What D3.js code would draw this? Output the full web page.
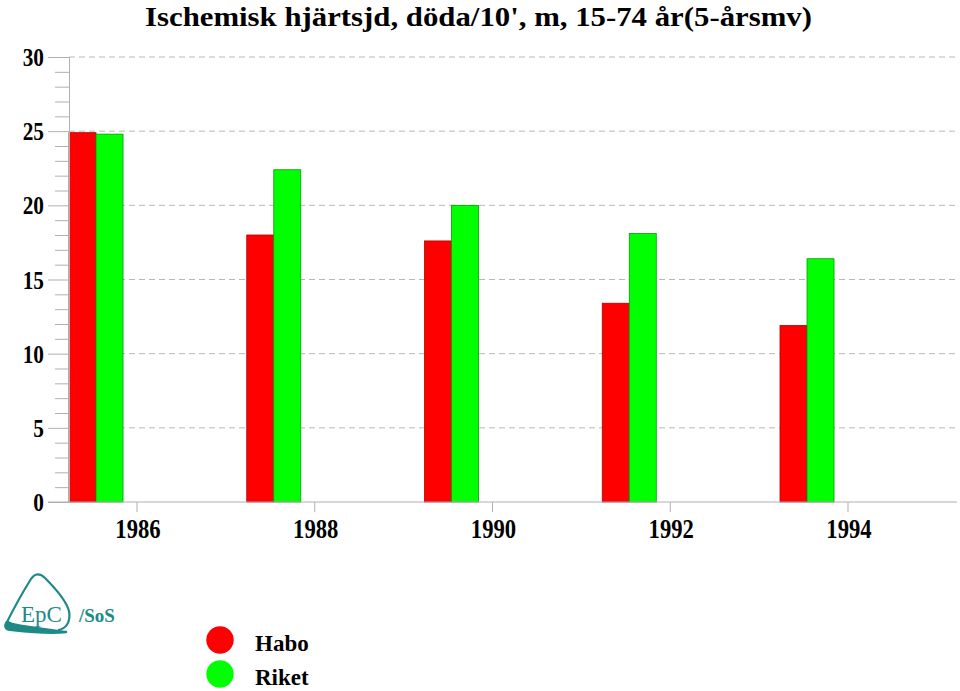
<!DOCTYPE html>
<html><head><meta charset="utf-8">
<script src="https://cdn.jsdelivr.net/npm/d3@7"></script>
<style>body{margin:0;background:#fff}svg{display:block}</style>
</head><body>
<script>
const title = "Ischemisk hjärtsjd, döda/10', m, 15-74 år(5-årsmv)";
const years = ["1986","1988","1990","1992","1994"];
const habo = [24.9, 18.0, 17.6, 13.4, 11.9];
const riket = [24.8, 22.4, 20.0, 18.1, 16.4];
const seriesNames = ["Habo","Riket"];
const seriesColors = ["#ff0000","#00ff00"];
const seriesStroke = ["#b00000","#00a000"];
const yTicks = [0,5,10,15,20,25,30];

const W = 960, H = 691;
const svg = d3.select("body").append("svg").attr("width", W).attr("height", H);
const serif = "'Liberation Serif','Times New Roman',serif";

const x = d3.scaleBand().domain(years).range([69, 957.75]).paddingInner(0).paddingOuter(0);
const y = d3.scaleLinear().domain([0, 30]).range([502, 57]);
const bw = x.bandwidth();
const barW = bw * 0.152;
const tickOff = bw * 0.3826;

// gridlines
svg.append("g").selectAll("line").data(yTicks.filter(d => d > 0)).join("line")
  .attr("x1", 69).attr("x2", 957).attr("y1", d => y(d)).attr("y2", d => y(d))
  .attr("stroke", "#b8b8b8").attr("stroke-width", 1).attr("stroke-dasharray", "6,4");

// bars
const data = years.map((yr, i) => ({yr, vals: [habo[i], riket[i]]}));
const g = svg.append("g");
data.forEach(d => {
  d.vals.forEach((v, k) => {
    g.append("rect")
      .attr("x", x(d.yr) + k * barW)
      .attr("y", y(v))
      .attr("width", barW)
      .attr("height", y(0) - y(v))
      .attr("fill", seriesColors[k])
      .attr("stroke", seriesStroke[k]).attr("stroke-width", 0.8);
  });
});

// y axis
const yAxis = d3.axisLeft(y).tickValues(d3.range(0, 31, 1)).tickSize(14).tickFormat("");
const ya = svg.append("g").attr("transform", "translate(69,0)").call(yAxis);
ya.select(".domain").attr("stroke", "#b0b0b0");
ya.selectAll(".tick line").attr("stroke", "#b0b0b0").attr("x2", d => d % 5 === 0 ? -21 : -14);
svg.append("g").selectAll("g").data(yTicks).join("g")
  .attr("transform", d => `translate(44,${y(d)}) scale(0.82,1)`)
  .append("text").attr("dy", "0.35em")
  .attr("text-anchor", "end").attr("font-family", serif).attr("font-weight", "bold")
  .attr("font-size", 26).text(d => d);

// x axis
svg.append("line").attr("x1", 48).attr("x2", 957).attr("y1", 502).attr("y2", 502).attr("stroke", "#b0b0b0");
const xt = svg.append("g").selectAll("g").data(years).join("g")
  .attr("transform", d => `translate(${x(d) + tickOff},502)`);
xt.append("line").attr("y2", 10).attr("stroke", "#b0b0b0");
xt.append("g").attr("transform", "translate(1,36) scale(0.84,1)")
  .append("text").attr("text-anchor", "middle").attr("font-family", serif).attr("font-weight", "bold")
  .attr("font-size", 27).text(d => d);

// title
svg.append("text").attr("x", 145).attr("y", 26)
  .attr("font-family", serif).attr("font-weight", "bold").attr("font-size", 28)
  .attr("textLength", 667).attr("lengthAdjust", "spacingAndGlyphs").text(title);

// legend
const lg = svg.append("g").selectAll("g").data(seriesNames).join("g")
  .attr("transform", (d, i) => `translate(220,${640 + i * 34})`);
lg.append("circle").attr("r", 13.7).attr("fill", (d, i) => seriesColors[i]);
lg.append("text").attr("x", 35).attr("y", 11).attr("font-family", serif).attr("font-weight", "bold")
  .attr("font-size", 23).text(d => d);

// logo
const teal = "#1e8a87";
const logo = svg.append("g");
logo.append("path")
  .attr("d", "M6,624 C14,608 24,590 31,579 C35,573 40,573 45,578 C55,588 66,600 69,611 C71,622 66,629 58,630")
  .attr("fill", "none").attr("stroke", teal).attr("stroke-width", 2.2);
logo.append("path")
  .attr("d", "M7,622 C4,626 5,630 12,630 C30,632 50,634 66,632 C50,630 30,628 12,624 Z")
  .attr("fill", teal).attr("stroke", teal).attr("stroke-width", 2.5).attr("stroke-linejoin", "round");
logo.append("text").attr("x", 21).attr("y", 622).attr("font-family", serif).attr("font-size", 23)
  .attr("fill", teal).text("EpC");
logo.append("text").attr("x", 79).attr("y", 622).attr("font-family", serif).attr("font-weight", "bold")
  .attr("font-size", 19).attr("fill", teal).text("/SoS");
</script>
</body></html>
